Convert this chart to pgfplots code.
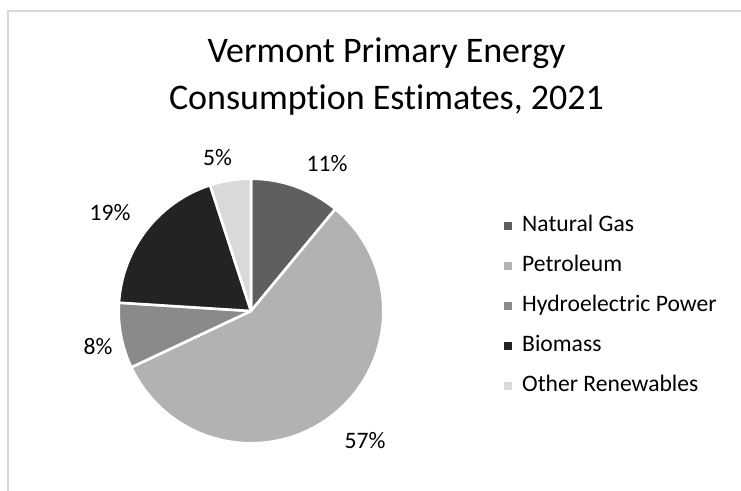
\documentclass[border=0pt]{standalone}
\usepackage{fontspec}
\setmainfont{Carlito}[Ligatures=NoCommon]
\usepackage{pgfplots}
\usepackage{pgfplotstable}
\pgfplotsset{compat=1.18}
\definecolor{cNG}{HTML}{5F5F5F}
\definecolor{cPE}{HTML}{B2B2B2}
\definecolor{cHY}{HTML}{8A8A8A}
\definecolor{cBI}{HTML}{232323}
\definecolor{cOR}{HTML}{D9D9D9}
\definecolor{frameC}{HTML}{D9D9D9}
\newcommand\labfont{\fontsize{23.6bp}{28bp}\selectfont}

\pgfplotstableread[col sep=comma]{
label,value,color,lx,ly
Natural Gas,11,cNG,327,327
Petroleum,57,cPE,365,50
Hydroelectric Power,8,cHY,98,144
Biomass,19,cBI,110,278
Other Renewables,5,cOR,217.5,333
}\pietable

\begin{document}
\begin{tikzpicture}
\begin{axis}[
  at={(0,0)}, anchor=south west,
  width=741bp, height=491bp, scale only axis,
  xmin=0, xmax=741, ymin=0, ymax=491,
  hide axis, clip=false,
  legend image code/.code={\fill[#1, draw=none] (0bp,-4bp) rectangle (8bp,4bp);},
  legend cell align=left,
  legend style={draw=none, fill=none, at={(axis cs:504,185)}, anchor=west,
    inner sep=0pt, font=\labfont, row sep=19bp, column sep=10bp,
    nodes={inner sep=0pt, text height=16bp, text depth=5bp}},
]
\draw[frameC, line width=2bp] (axis cs:7.5,-20) -- (axis cs:7.5,480) -- (axis cs:760,480);

\def\cum{0}
\pgfplotsforeachungrouped \i in {0,...,4}{
  \pgfplotstablegetelem{\i}{value}\of\pietable \let\v\pgfplotsretval
  \pgfplotstablegetelem{\i}{color}\of\pietable \let\c\pgfplotsretval
  \pgfplotstablegetelem{\i}{lx}\of\pietable \let\lx\pgfplotsretval
  \pgfplotstablegetelem{\i}{ly}\of\pietable \let\ly\pgfplotsretval
  \pgfmathsetmacro\a{90-\cum*3.6}
  \pgfmathsetmacro\b{90-(\cum+\v)*3.6}
  \edef\temp{\noexpand\fill[fill=\c, draw=white, line width=2.6bp, line join=round]
     (axis cs:251,180) -- ++(\a:132.3bp) arc[start angle=\a, end angle=\b, radius=132.3bp] -- cycle;
     \noexpand\node[font=\noexpand\labfont, inner sep=0pt] at (axis cs:\lx,\ly) {\v\noexpand\%};}
  \temp
  \pgfmathsetmacro\cum{\cum+\v}
}

\node[anchor=base, font=\fontsize{36bp}{44bp}\selectfont, inner sep=0pt] at (axis cs:386.5,428) {Vermont Primary Energy};
\node[anchor=base, font=\fontsize{36bp}{44bp}\selectfont, inner sep=0pt] at (axis cs:386.5,381) {Consumption Estimates, 2021};

\addlegendimage{fill=cNG}\addlegendentry{Natural Gas}
\addlegendimage{fill=cPE}\addlegendentry{Petroleum}
\addlegendimage{fill=cHY}\addlegendentry{Hydroelectric Power}
\addlegendimage{fill=cBI}\addlegendentry{Biomass}
\addlegendimage{fill=cOR}\addlegendentry{Other Renewables}
\end{axis}
\pgfresetboundingbox
\path (0,0) rectangle (741bp,491bp);
\end{tikzpicture}
\end{document}
